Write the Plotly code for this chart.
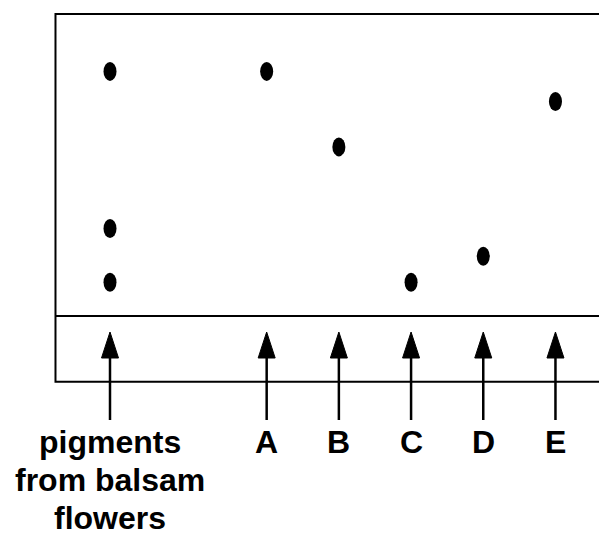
import plotly.graph_objects as go

# ---- data ----
lanes = [["pigments", "from balsam", "flowers"], ["A"], ["B"], ["C"], ["D"], ["E"]]
lane_pos = [0, 2.17, 3.17, 4.17, 5.17, 6.17]
spots = [
    [0.81, 0.29, 0.112],   # pigments from balsam flowers
    [0.81],                # A
    [0.56],                # B
    [0.112],               # C
    [0.198],               # D
    [0.71],                # E
]

fig = go.Figure()

xs, ys = [], []
for p, s in zip(lane_pos, spots):
    for v in s:
        xs.append(p)
        ys.append(v)

fig.add_trace(go.Scatter(x=xs, y=ys, mode="markers",
                         marker=dict(color="black", size=12),
                         hoverinfo="skip", showlegend=False))

shapes = []
# paper box
shapes.append(dict(type="rect", xref="x", yref="y", x0=-0.755, x1=7.5, y0=-0.218, y1=1.0,
                   line=dict(color="black", width=2), fillcolor="rgba(0,0,0,0)", layer="below"))
# origin line
shapes.append(dict(type="line", xref="x", yref="y", x0=-0.755, x1=7.5, y0=0, y1=0,
                   line=dict(color="black", width=2)))
# spots as ellipses
for x, y in zip(xs, ys):
    shapes.append(dict(type="circle", xref="x", yref="y",
                       xsizemode="pixel", ysizemode="pixel", xanchor=x, yanchor=y,
                       x0=-6.5, x1=6.5, y0=-9.5, y1=9.5,
                       fillcolor="black", line=dict(width=0)))
# arrows
for p in lane_pos:
    shapes.append(dict(type="line", xref="x", yref="y",
                       ysizemode="pixel", yanchor=0, x0=p, x1=p, y0=-104, y1=-38,
                       line=dict(color="black", width=2.5)))
    shapes.append(dict(type="path", xref="x", yref="y",
                       xsizemode="pixel", ysizemode="pixel", xanchor=p, yanchor=0,
                       path="M-8.5,-42 L8.5,-42 L0,-16 Z",
                       fillcolor="black", line=dict(color="black", width=1)))

annotations = []
for p, lines in zip(lane_pos, lanes):
    for i, t in enumerate(lines):
        annotations.append(dict(x=p, y=0, xref="x", yref="y", text=t, showarrow=False,
                                xanchor="center", yanchor="top", yshift=-106 - 38 * i,
                                font=dict(family="Liberation Sans, Arial, sans-serif",
                                          size=32, color="black", weight="bold")))

fig.update_layout(
    width=599, height=533, autosize=False,
    margin=dict(l=0, r=0, t=0, b=0),
    paper_bgcolor="white", plot_bgcolor="white",
    xaxis=dict(range=[-1.5235, 6.773], visible=False, fixedrange=True),
    yaxis=dict(range=[-0.7185, 1.0464], visible=False, fixedrange=True),
    shapes=shapes, annotations=annotations,
)

fig.write_html("out.html", config={"displayModeBar": False},
               post_script="document.body.style.margin='0';document.body.style.overflow='hidden';")
